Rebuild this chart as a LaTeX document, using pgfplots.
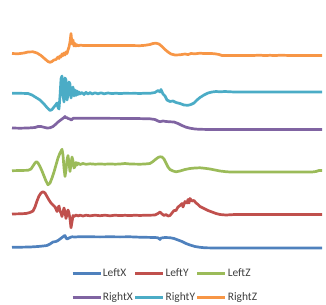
\documentclass[border=0pt]{standalone}
\usepackage{pgfplots}
\pgfplotsset{compat=1.18}
\usepackage{fontspec}
\setmainfont{Carlito}
\definecolor{cLX}{HTML}{4F81BD}
\definecolor{cLY}{HTML}{C0504D}
\definecolor{cLZ}{HTML}{9BBB59}
\definecolor{cRX}{HTML}{8064A2}
\definecolor{cRY}{HTML}{4BACC6}
\definecolor{cRZ}{HTML}{F79646}
\begin{document}
\fontsize{11.5}{13}\selectfont
\begin{tikzpicture}
\useasboundingbox (0,0) rectangle (326bp,305bp);
\begin{axis}[
  at={(0,0)}, anchor=south west,
  scale only axis, width=326bp, height=305bp,
  xmin=0, xmax=326, ymin=0, ymax=305, y dir=reverse,
  hide axis, clip=false,
  every axis plot/.append style={line width=2.7bp, line join=round, no marks},
  legend columns=3,
  legend cell align=left,
  legend style={at={(axis cs:71,268.5)}, anchor=north west, draw=none, fill=none,
    inner sep=0pt, column sep=0bp, row sep=14.5bp, font=\fontsize{11.5}{13}\selectfont, text=black!75,
    nodes={inner xsep=1bp, inner ysep=0pt}},
  legend image code/.code={\draw[#1, line width=2.7bp] (0bp,0bp) -- (28bp,0bp);},
]
% LeftX
\addplot[cLX] coordinates {(12,247.3) (20,247.2) (30,247) (38,246.5) (43,246) (47,245.5) (50,244) (53,242) (56,241.5) (58,240.5) (60,239) (62,237.5) (64,236) (65,235.5) (66,238) (67,239) (68,238.5) (70,237.5) (72,236.8) (75,237) (80,236.7) (90,236.8) (100,236.9) (110,236.8) (120,236.9) (130,236.8) (140,237.2) (150,237.4) (155,237.5) (158,237.8) (160,239.5) (161,238) (165,237.5) (170,237.7) (174,238.5) (178,240) (182,241.5) (186,243.5) (190,245) (195,246.5) (200,247.3) (205,247.8) (215,248) (240,248) (270,248) (300,248) (322,248)};
\addlegendentry{LeftX}
% LeftY
\addplot[cLY] coordinates {(12,214) (20,213.8) (26,213.5) (30,212.5) (33,211) (35,207) (37,201) (39,196) (41,193) (43,191.7) (45,193) (47,196.5) (49,200) (51,203) (53,205) (55,207) (56,209) (57,211.5) (58,208) (59,206) (60,211) (61,213) (62,216.5) (63,212) (64,208) (65,212) (66,218.5) (67,214) (68,210) (69,213) (70,219) (71,227.8) (72,222) (73,215.5) (74,216.5) (76,215) (78,216) (80,215.2) (83,216) (86,215.2) (90,215.8) (95,215.2) (100,215.7) (105,215.2) (110,215.8) (115,215.2) (120,215.6) (125,215.3) (130,215.6) (135,215.2) (140,215.5) (145,215.2) (150,215.2) (155,215) (158,213.5) (160,212) (162,214) (164,215.5) (166,214.5) (168,216) (170,215.5) (172,213) (174,210.5) (176,210.5) (178,207) (180,205.5) (182,203.5) (183,207) (185,201.5) (187,203) (188,199.5) (189,203) (190,198.5) (192,201) (194,200.5) (196,203) (198,204.5) (200,206.5) (204,208.5) (208,210.5) (212,212) (216,213.5) (220,214.5) (226,215) (235,214.5) (250,214.5) (270,214.5) (290,214.5) (322,214.5)};
\addlegendentry{LeftY}
% LeftZ
\addplot[cLZ] coordinates {(12,170.7) (20,170.5) (28,170.3) (31,169) (33,166) (35,163) (36.5,161.7) (38,163) (40,166.5) (42,171) (44,176) (46,181) (48,184.8) (50,183) (52,178) (54,172) (56,165) (58,158) (60,153) (62,149.3) (63,155) (64,168) (65,176.5) (66,170) (67,160) (68,155.5) (69,163) (70,171.5) (71,164) (72,157) (73,161) (74,168) (75,166.5) (76,162.5) (77,165) (78,163) (80,164.5) (83,163.5) (86,164.3) (90,163.8) (95,164.2) (100,164) (105,164.2) (110,163.9) (115,164.2) (120,164) (125,163.5) (130,164) (140,164.2) (145,164) (150,163.5) (153,161.5) (156,159) (158,157.5) (160,156.8) (162,157) (164,159) (166,163) (168,167) (170,169.5) (173,171) (176,171.8) (180,171) (185,169.5) (190,168.5) (195,168) (200,167.8) (205,168.3) (210,169) (215,170) (220,171) (226,171.7) (230,172) (260,172) (300,172) (312,172) (316,171.5) (319,170.5) (322,170.5)};
\addlegendentry{LeftZ}
% RightX
\addplot[cRX] coordinates {(12,128) (20,128.2) (28,128) (35,127.5) (38,126.5) (41,126.5) (44,127.3) (47,128) (50,127.8) (53,126.5) (56,124) (58,122) (60,120.5) (62,119) (64,117.5) (65,116.5) (66,118) (67,117.5) (68,118.5) (70,119) (71,120) (72,119.5) (73,118.3) (76,118.2) (80,118.3) (100,118.3) (120,118.4) (140,118.6) (150,118.8) (155,119.5) (158,121) (160,121.7) (163,121) (166,121.5) (170,121.8) (174,122) (178,123.5) (182,125.5) (186,127.2) (190,128.2) (195,129) (200,129.3) (210,129.5) (260,129.5) (322,129.5)};
\addlegendentry{RightX}
% RightY
\addplot[cRY] coordinates {(12,93.3) (20,93.3) (28,93.5) (32,95) (36,97.5) (40,100) (44,104) (47,107.5) (50,110.5) (52,109.5) (54,107) (56,104.5) (57,103) (58,107.5) (59,109) (60,96) (61,79) (62,76) (63,95) (64,102) (65,78) (66,80) (67,100) (68,95) (69,82) (70,84) (71,98) (72,93) (73,87) (74,96) (75,90) (76,95.5) (77,91) (78,94.5) (79,92) (80,94) (82,92.5) (84,94.5) (86,92.3) (88,94.2) (90,92.5) (92,94) (95,92.8) (98,93.8) (101,92.8) (104,93.8) (108,93) (112,93.6) (116,93.2) (120,93.6) (125,93.2) (130,93.4) (135,93.3) (140,93.5) (145,93.2) (150,93.3) (155,92.5) (158,90.5) (160,92) (161,89.5) (163,94) (165,96) (167,100) (170,101.5) (173,101) (176,102.5) (180,103.5) (184,105) (188,105.3) (191,104.5) (194,103) (197,100) (200,97.5) (204,95) (208,93) (212,92) (216,91.5) (220,91.8) (225,91.5) (230,91.8) (235,92) (260,92) (322,92)};
\addlegendentry{RightY}
% RightZ
\addplot[cRZ] coordinates {(12,53.5) (18,53.8) (24,53) (28,52) (33,51.8) (37,53) (41,55.5) (45,59) (48,61.5) (50,62.3) (52,61.5) (54,60) (56,59.5) (58,57) (59,58.5) (60,56) (61,57) (62,54) (63,55.5) (64,53) (65,55) (66,52) (67,53.5) (68,50) (69,47) (70,42) (71,33.5) (72,44) (73,40) (74,46) (75,43.5) (76,46) (77,44.8) (78,45.8) (80,45.2) (85,45.6) (90,45.4) (100,45.6) (110,45.4) (120,45.6) (130,45.5) (140,45.7) (145,45.3) (150,44.5) (153,43.5) (156,43.2) (159,44) (162,46.5) (165,49.5) (168,52) (171,54) (175,55) (180,54.8) (185,54) (188,54.6) (191,53.5) (195,53.8) (200,53.2) (205,53.6) (210,53.4) (215,53.8) (219,54.5) (222,55.5) (230,55.6) (240,55.5) (250,55.6) (260,55.2) (265,55.6) (270,55.3) (275,55.6) (280,55.2) (290,55.5) (322,55.5)};
\addlegendentry{RightZ}
\end{axis}
\end{tikzpicture}
\end{document}
